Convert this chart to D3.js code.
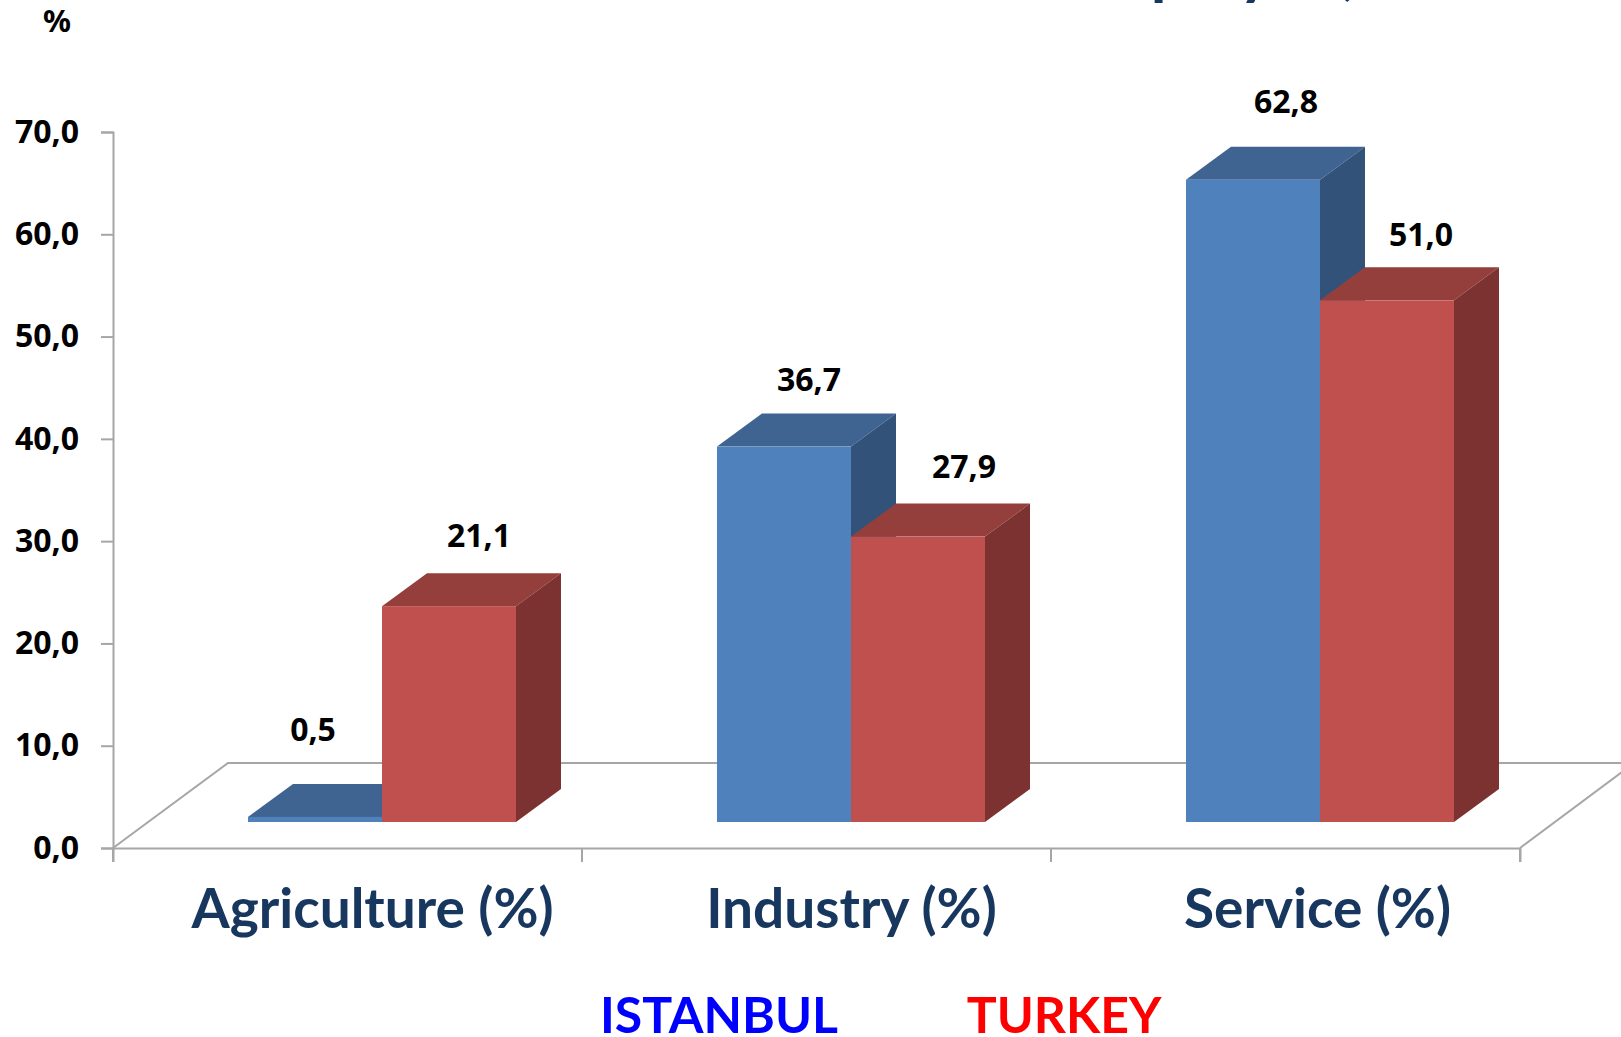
<!DOCTYPE html>
<html>
<head>
<meta charset="utf-8">
<script src="https://cdnjs.cloudflare.com/ajax/libs/d3/7.8.5/d3.min.js"></script>
<style>
  html, body { margin: 0; padding: 0; background: #fff; overflow: hidden; }
  svg { display: block; }
</style>
</head>
<body>
<div id="chart"></div>
<script>
const categories = ["Agriculture (%)", "Industry (%)", "Service (%)"];
const seriesNames = ["ISTANBUL", "TURKEY"];
const istanbul = [0.5, 36.7, 62.8];
const turkey = [21.1, 27.9, 51.0];
const yTicks = [0, 10, 20, 30, 40, 50, 60, 70];

const width = 1621,
      height = 1037,
      plotLeft = 113,
      plotRight = 1520,
      plotTop = 132,
      plotBottom = 848,
      depthX = 45,
      depthY = 33,
      floorLift = 26,
      floorShift = 34.5;

const faces = {
  ISTANBUL: { front: "#4f81bd", top: "#3f6491", side: "#33527a" },
  TURKEY: { front: "#c0504d", top: "#953f3c", side: "#7b3230" }
};

// hand nudges, the labels in the picture don't sit at one fixed place
const labelLift = {
  ISTANBUL: [18, -2, 9],
  TURKEY: [1, 1, -4]
};
const labelShift = {
  ISTANBUL: [-36, -9, -1],
  TURKEY: [-4, 12, 0]
};
const catShift = [-14, -4, -7];

const fmt = v => v.toFixed(1).replace(".", ",");

const svg = d3.select("#chart").append("svg")
  .attr("width", width)
  .attr("height", height);

const xScale = d3.scaleBand().domain(categories).range([plotLeft, plotRight]);
const inner = d3.scaleBand().domain(seriesNames).range([0, 268]);
const yScale = d3.scaleLinear().domain([0, 70]).range([plotBottom, plotTop]);

// floor
const floor = svg.append("g")
  .attr("fill", "none")
  .attr("stroke", "#a6a6a6")
  .attr("stroke-width", 2);

floor.append("path")
  .attr("d", d3.line()([[plotLeft, plotBottom], [plotLeft + 115, plotBottom - 85], [width + 20, plotBottom - 85]]));
floor.append("path")
  .attr("d", d3.line()([[plotRight, plotBottom], [plotRight + 114, plotBottom - 85]]));

// axes
const yAxis = d3.axisLeft(yScale)
  .tickValues(yTicks)
  .tickFormat(fmt)
  .tickSize(12)
  .tickPadding(22);

const xAxis = d3.axisBottom(xScale)
  .tickSize(14)
  .tickFormat("");

const yG = svg.append("g")
  .attr("transform", `translate(${plotLeft},0)`)
  .call(yAxis);

yG.selectAll("path, line").attr("stroke", "#a6a6a6").attr("stroke-width", 2);
yG.selectAll("text")
  .attr("fill", "#000")
  .style("font-family", "'Noto Sans'")
  .style("font-weight", 700)
  .style("font-size", "32px");

const xG = svg.append("g")
  .attr("transform", `translate(0,${plotBottom})`)
  .call(xAxis);

xG.select("path").attr("stroke", "#a6a6a6").attr("stroke-width", 2);
// band ticks go on the edges of the categories, not the middles
xG.selectAll(".tick").remove();
xG.selectAll("line.edge")
  .data(xScale.domain().map(d => xScale(d)).concat(plotRight))
  .enter().append("line")
  .attr("class", "edge")
  .attr("x1", d => d)
  .attr("x2", d => d)
  .attr("y1", 0)
  .attr("y2", 14)
  .attr("stroke", "#a6a6a6")
  .attr("stroke-width", 2);

// bars, back to front
const rows = [];
seriesNames.forEach((name, s) => {
  const values = s === 0 ? istanbul : turkey;
  categories.forEach((cat, c) => rows.push({ name, cat, c, value: values[c] }));
});

const pad = (xScale.bandwidth() - inner.range()[1]) / 2 + floorShift;
const base = yScale(0) - floorLift;
const barHeight = d => yScale(0) - yScale(d.value);

const bars = svg.selectAll("g.bar")
  .data(rows)
  .enter().append("g")
  .attr("class", "bar")
  .attr("transform", d => `translate(${xScale(d.cat) + pad + inner(d.name)},${base})`);

bars.append("path")
  .attr("fill", d => faces[d.name].top)
  .attr("d", d => {
    const h = barHeight(d), w = inner.bandwidth();
    return d3.line()([[0, -h], [depthX, -h - depthY], [w + depthX, -h - depthY], [w, -h]]) + "Z";
  });

bars.append("path")
  .attr("fill", d => faces[d.name].side)
  .attr("d", d => {
    const h = barHeight(d), w = inner.bandwidth();
    return d3.line()([[w, 0], [w + depthX, -depthY], [w + depthX, -h - depthY], [w, -h]]) + "Z";
  });

bars.append("rect")
  .attr("y", d => -barHeight(d))
  .attr("width", inner.bandwidth())
  .attr("height", barHeight)
  .attr("fill", d => faces[d.name].front);

// value labels
bars.append("text")
  .attr("x", d => inner.bandwidth() / 2 + 34 + labelShift[d.name][d.c])
  .attr("y", d => -barHeight(d) - 58 - labelLift[d.name][d.c])
  .attr("text-anchor", "middle")
  .attr("fill", "#000")
  .style("font-family", "'Noto Sans'")
  .style("font-weight", 700)
  .style("font-size", "32px")
  .text(d => fmt(d.value));

// category names
svg.selectAll("text.cat")
  .data(categories)
  .enter().append("text")
  .attr("class", "cat")
  .attr("x", (d, i) => xScale(d) + xScale.bandwidth() / 2 + 39 + catShift[i])
  .attr("y", 928)
  .attr("text-anchor", "middle")
  .attr("fill", "#17375e")
  .style("font-family", "Lato")
  .style("font-weight", 700)
  .style("font-size", "55px")
  .text(d => d);

// legend words
svg.selectAll("text.legend")
  .data(seriesNames)
  .enter().append("text")
  .attr("class", "legend")
  .attr("x", (d, i) => 719 + i * 345)
  .attr("y", 1033)
  .attr("text-anchor", "middle")
  .attr("fill", (d, i) => i === 0 ? "#0000ff" : "#ff0000")
  .style("font-family", "Lato")
  .style("font-weight", 700)
  .style("font-size", "50px")
  .text(d => d);

// % unit over the y axis
svg.append("text")
  .attr("x", 57)
  .attr("y", 32)
  .attr("text-anchor", "middle")
  .attr("fill", "#000")
  .style("font-family", "'Noto Sans'")
  .style("font-weight", 700)
  .style("font-size", "31px")
  .text("%");

// title runs off the top of the picture, only its descenders show
svg.append("text")
  .attr("x", 1063)
  .attr("y", -7)
  .attr("fill", "#17375e")
  .style("font-family", "Lato")
  .style("font-weight", 700)
  .style("font-size", "64px")
  .text("employed,");
</script>
</body>
</html>
